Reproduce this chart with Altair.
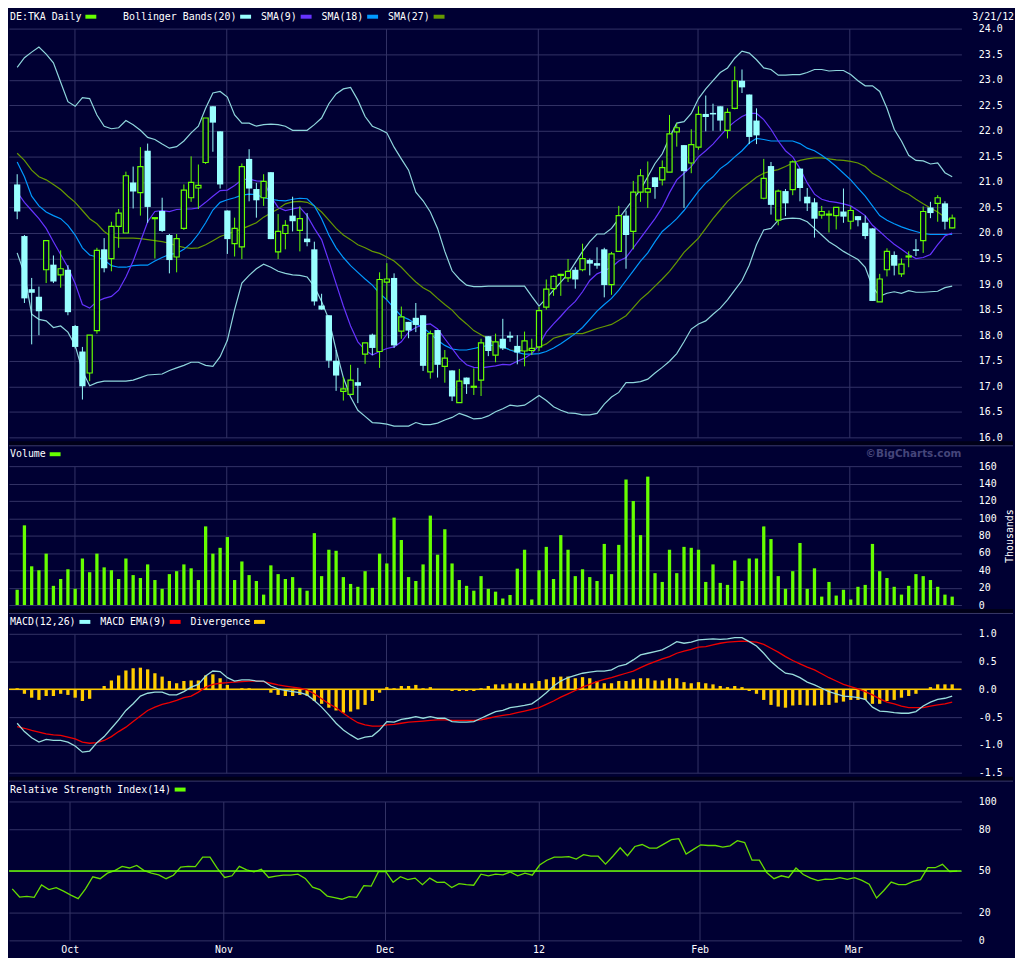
import altair as alt
import pandas as pd

# ---------------- data ----------------
opens = [20.95, 19.94, 18.90, 18.75, 19.28, 19.38, 19.18, 19.28, 18.18, 17.68,
 17.26, 18.09, 19.68, 19.50, 20.13, 20.00, 20.99, 20.79, 21.61, 20.28,
 20.43, 19.96, 19.53, 20.09, 20.69, 20.88, 21.38, 22.48, 21.99, 20.44,
 19.79, 19.73, 21.45, 20.86, 20.69, 21.19, 19.63, 19.99, 20.34, 20.05,
 19.89, 19.68, 18.58, 18.39, 17.50, 16.90, 16.84, 17.08, 17.63, 18.01,
 17.68, 19.04, 19.12, 18.08, 18.26, 18.34, 18.39, 17.28, 18.10, 17.39,
 17.31, 16.68, 17.17, 16.98, 17.12, 17.98, 17.61, 17.93, 17.99, 17.79,
 17.69, 17.70, 17.77, 18.55, 18.91, 19.17, 19.12, 19.28, 19.28, 19.47,
 19.41, 19.68, 18.99, 19.64, 20.34, 20.03, 20.80, 20.80, 21.09, 21.04,
 21.19, 21.98, 21.72, 21.37, 21.68, 22.33, 22.35, 22.48, 22.01, 22.44,
 22.98, 22.71, 22.20, 20.68, 21.31, 20.25, 20.82, 20.85, 21.26, 20.71,
 20.60, 20.35, 20.35, 20.34, 20.42, 20.23, 20.33, 20.20, 20.09, 18.65,
 19.28, 19.57, 19.20, 19.53, 19.68, 19.85, 20.50, 20.58, 20.58, 20.10]
highs = [21.15, 19.96, 19.12, 18.95, 19.85, 19.56, 19.66, 19.37, 18.20, 17.77,
 18.00, 19.71, 19.90, 20.22, 20.47, 21.20, 21.30, 21.68, 21.75, 20.30,
 20.69, 19.98, 19.98, 20.95, 21.50, 21.34, 22.25, 22.48, 21.99, 20.44,
 20.30, 21.36, 21.64, 20.98, 21.15, 21.19, 20.37, 20.25, 20.71, 20.52,
 20.39, 19.83, 18.81, 18.39, 17.71, 17.18, 17.42, 17.36, 17.85, 18.03,
 19.23, 19.41, 19.21, 18.56, 18.26, 18.63, 18.39, 18.09, 18.10, 17.71,
 17.31, 17.34, 17.17, 17.35, 17.93, 17.98, 18.03, 18.32, 18.07, 18.00,
 18.07, 17.93, 18.55, 19.09, 19.17, 19.20, 19.49, 19.33, 19.79, 19.50,
 19.72, 19.71, 19.63, 20.53, 20.44, 21.02, 21.25, 21.40, 21.09, 21.42,
 22.31, 22.15, 21.72, 22.03, 22.48, 22.69, 22.53, 22.48, 22.44, 23.26,
 23.20, 22.71, 22.44, 21.45, 21.39, 20.85, 20.86, 21.42, 21.26, 20.88,
 20.68, 20.53, 20.44, 20.50, 20.87, 20.52, 20.33, 20.34, 20.09, 19.20,
 19.70, 19.64, 19.50, 19.64, 19.88, 20.52, 20.61, 20.74, 20.62, 20.36]
lows = [20.27, 18.63, 17.82, 18.00, 19.02, 19.02, 18.93, 18.39, 17.74, 16.74,
 17.10, 18.03, 19.23, 19.25, 19.71, 20.00, 20.48, 20.34, 20.20, 19.50,
 20.02, 19.21, 19.23, 20.06, 20.61, 20.47, 21.35, 21.59, 20.87, 19.59,
 19.54, 19.49, 20.62, 20.30, 20.53, 19.88, 19.49, 19.68, 20.03, 19.64,
 19.74, 18.58, 18.50, 17.36, 16.91, 16.72, 16.84, 16.67, 17.44, 17.61,
 17.36, 18.69, 17.75, 17.93, 17.94, 18.06, 17.30, 17.15, 17.17, 17.07,
 16.71, 16.68, 16.85, 16.83, 16.81, 17.59, 17.47, 17.71, 17.87, 17.43,
 17.39, 17.61, 17.69, 18.50, 18.77, 18.77, 19.04, 18.91, 19.25, 19.17,
 19.30, 18.74, 18.79, 19.63, 19.30, 19.68, 20.61, 20.49, 20.67, 20.93,
 21.19, 21.69, 20.49, 21.17, 21.63, 21.99, 22.00, 22.00, 21.85, 22.42,
 22.74, 21.74, 21.74, 20.66, 20.36, 20.15, 20.33, 20.74, 20.62, 20.43,
 19.91, 20.28, 20.01, 20.07, 20.20, 20.07, 20.13, 19.88, 18.67, 18.65,
 19.15, 19.17, 19.14, 19.33, 19.55, 19.61, 20.29, 20.22, 20.07, 20.09]
closes = [20.42, 18.72, 18.83, 18.47, 19.85, 19.05, 19.30, 18.45, 17.77, 17.00,
 18.00, 19.66, 19.31, 20.13, 20.39, 21.12, 20.81, 21.30, 20.51, 20.30,
 20.04, 19.47, 19.89, 20.84, 20.99, 20.93, 22.25, 22.16, 20.95, 19.88,
 20.09, 21.30, 20.87, 20.64, 21.01, 19.88, 20.03, 20.15, 20.23, 20.28,
 19.82, 18.66, 18.50, 17.50, 17.21, 16.95, 17.12, 17.01, 17.85, 17.75,
 19.09, 19.10, 17.80, 18.36, 18.09, 18.20, 17.40, 18.03, 17.42, 17.55,
 16.80, 17.10, 17.04, 17.00, 17.85, 17.69, 17.87, 17.74, 17.95, 17.66,
 17.89, 17.74, 18.48, 18.90, 19.15, 19.19, 19.25, 19.09, 19.50, 19.40,
 19.36, 18.98, 19.59, 20.34, 19.96, 20.80, 21.12, 20.87, 20.90, 21.28,
 21.94, 22.06, 21.21, 21.73, 22.32, 22.27, 22.32, 22.20, 22.36, 22.98,
 22.85, 21.88, 21.91, 21.07, 20.55, 20.82, 20.58, 21.39, 20.88, 20.58,
 20.28, 20.42, 20.37, 20.50, 20.32, 20.44, 20.25, 19.94, 18.67, 19.10,
 19.64, 19.36, 19.39, 19.55, 19.65, 20.42, 20.39, 20.69, 20.22, 20.29]
volumes = [17.6, 91.8, 44.6, 40.1, 59.2, 22.1, 30.0, 41.2, 18.7, 53.6,
 37.8, 59.2, 43.4, 40.1, 30.0, 53.6, 34.5, 31.1, 46.8, 28.8,
 18.7, 35.6, 39.0, 46.8, 42.3, 28.8, 90.6, 59.2, 65.9, 78.3,
 28.8, 50.2, 34.5, 27.7, 12.0, 45.7, 35.6, 30.0, 32.2, 19.8,
 16.5, 82.8, 33.3, 63.7, 62.5, 32.2, 24.3, 21.0, 39.0, 19.8,
 59.2, 47.9, 100.7, 74.9, 32.2, 27.7, 46.8, 103.0, 58.0, 87.3,
 47.9, 28.8, 22.1, 16.5, 33.3, 18.7, 15.4, 7.5, 11.6, 41.9,
 63.7, 6.4, 40.1, 67.0, 30.0, 80.5, 63.7, 33.3, 41.2, 32.2,
 27.7, 70.4, 35.6, 69.3, 144.6, 119.8, 80.5, 147.9, 36.7, 26.6,
 63.7, 36.7, 67.0, 65.9, 63.7, 26.6, 46.8, 25.5, 23.2, 51.3,
 27.7, 53.6, 53.6, 90.6, 76.0, 33.3, 18.7, 39.0, 71.5, 18.7,
 42.3, 9.7, 26.6, 10.9, 17.6, 6.4, 21.0, 23.2, 70.4, 39.0,
 31.1, 21.0, 12.0, 22.1, 35.6, 33.3, 28.8, 21.0, 12.0, 9.7]
bb_upper = [23.24, 23.43, 23.54, 23.64, 23.50, 23.33, 22.95, 22.57, 22.48, 22.65,
 22.63, 22.31, 22.09, 22.04, 22.06, 22.20, 22.12, 22.01, 21.87, 21.83,
 21.74, 21.66, 21.69, 21.80, 21.96, 22.09, 22.44, 22.74, 22.77, 22.66,
 22.31, 22.15, 22.15, 22.09, 22.12, 22.13, 22.12, 22.09, 22.01, 22.01,
 22.01, 22.12, 22.25, 22.53, 22.72, 22.82, 22.85, 22.60, 22.28, 22.09,
 22.03, 21.96, 21.68, 21.45, 21.23, 20.80, 20.63, 20.41, 20.09, 19.64,
 19.26, 19.10, 18.98, 18.95, 18.95, 18.96, 18.96, 18.96, 18.96, 18.96,
 18.96, 18.76, 18.57, 18.72, 18.88, 19.04, 19.20, 19.42, 19.64, 19.83,
 19.98, 19.98, 20.09, 20.28, 20.47, 20.66, 20.85, 21.10, 21.36, 21.55,
 21.87, 22.15, 22.18, 22.34, 22.63, 22.82, 22.98, 23.14, 23.23, 23.42,
 23.56, 23.52, 23.39, 23.23, 23.20, 23.09, 23.09, 23.10, 23.10, 23.14,
 23.20, 23.20, 23.17, 23.18, 23.18, 23.10, 22.98, 22.88, 22.88, 22.77,
 22.44, 22.03, 21.80, 21.52, 21.42, 21.41, 21.35, 21.37, 21.18, 21.10]
bb_lower = [19.61, 19.20, 18.41, 18.31, 18.28, 18.15, 18.18, 18.06, 17.80, 17.30,
 17.01, 17.07, 17.10, 17.10, 17.10, 17.10, 17.12, 17.17, 17.22, 17.23,
 17.24, 17.31, 17.36, 17.41, 17.47, 17.47, 17.41, 17.39, 17.58, 17.90,
 18.50, 19.02, 19.17, 19.30, 19.39, 19.33, 19.25, 19.21, 19.18, 19.17,
 19.14, 18.95, 18.66, 18.31, 17.71, 17.17, 16.79, 16.53, 16.41, 16.29,
 16.28, 16.26, 16.22, 16.22, 16.22, 16.29, 16.25, 16.25, 16.28, 16.34,
 16.39, 16.47, 16.42, 16.36, 16.37, 16.42, 16.50, 16.56, 16.63, 16.61,
 16.63, 16.72, 16.82, 16.72, 16.60, 16.53, 16.48, 16.47, 16.44, 16.44,
 16.47, 16.65, 16.79, 16.88, 17.07, 17.07, 17.09, 17.14, 17.26, 17.37,
 17.49, 17.64, 17.87, 18.12, 18.22, 18.28, 18.41, 18.53, 18.69, 18.88,
 19.07, 19.37, 19.77, 20.06, 20.09, 20.25, 20.28, 20.29, 20.28, 20.22,
 20.09, 19.96, 19.83, 19.74, 19.64, 19.56, 19.48, 19.33, 18.95, 18.76,
 18.82, 18.85, 18.82, 18.87, 18.84, 18.84, 18.85, 18.86, 18.93, 18.96]
sma9 = [20.80, 20.60, 20.44, 20.28, 20.09, 19.83, 19.58, 19.33, 19.01, 18.60,
 18.53, 18.66, 18.72, 18.76, 18.88, 19.14, 19.45, 19.83, 20.22, 20.42,
 20.44, 20.42, 20.46, 20.47, 20.47, 20.49, 20.60, 20.72, 20.83, 20.84,
 20.93, 21.04, 21.06, 21.02, 21.01, 20.72, 20.50, 20.44, 20.47, 20.50,
 20.34, 20.09, 19.87, 19.45, 19.01, 18.57, 18.18, 17.87, 17.71, 17.61,
 17.68, 17.74, 17.77, 17.87, 18.06, 18.15, 18.20, 18.22, 18.12, 17.93,
 17.74, 17.55, 17.42, 17.37, 17.36, 17.38, 17.40, 17.43, 17.42, 17.49,
 17.55, 17.64, 17.80, 18.06, 18.22, 18.37, 18.53, 18.66, 18.85, 19.07,
 19.20, 19.26, 19.33, 19.45, 19.52, 19.71, 19.90, 20.09, 20.28, 20.50,
 20.79, 21.04, 21.17, 21.30, 21.49, 21.61, 21.74, 21.90, 22.06, 22.18,
 22.28, 22.34, 22.34, 22.22, 22.03, 21.80, 21.61, 21.49, 21.26, 20.98,
 20.76, 20.66, 20.62, 20.60, 20.57, 20.53, 20.44, 20.34, 20.15, 20.03,
 19.90, 19.78, 19.68, 19.58, 19.50, 19.52, 19.58, 19.77, 19.94, 20.00]
sma18 = [21.39, 21.10, 20.72, 20.53, 20.41, 20.34, 20.28, 20.15, 19.96, 19.71,
 19.57, 19.53, 19.47, 19.36, 19.33, 19.33, 19.36, 19.37, 19.37, 19.45,
 19.52, 19.58, 19.60, 19.68, 19.80, 19.98, 20.20, 20.45, 20.60, 20.65,
 20.69, 20.74, 20.76, 20.75, 20.69, 20.66, 20.64, 20.63, 20.66, 20.68,
 20.67, 20.53, 20.28, 19.96, 19.71, 19.52, 19.36, 19.23, 19.10, 18.98,
 18.82, 18.69, 18.53, 18.37, 18.31, 18.22, 18.15, 18.03, 17.90, 17.80,
 17.73, 17.71, 17.71, 17.74, 17.77, 17.80, 17.80, 17.77, 17.71, 17.66,
 17.63, 17.63, 17.64, 17.68, 17.75, 17.83, 17.93, 18.03, 18.15, 18.31,
 18.47, 18.60, 18.72, 18.88, 19.07, 19.26, 19.45, 19.61, 19.83, 20.03,
 20.15, 20.28, 20.44, 20.63, 20.82, 20.98, 21.10, 21.26, 21.36, 21.49,
 21.61, 21.76, 21.85, 21.83, 21.80, 21.80, 21.80, 21.80, 21.75, 21.66,
 21.61, 21.52, 21.42, 21.30, 21.17, 21.04, 20.88, 20.72, 20.53, 20.34,
 20.25, 20.18, 20.12, 20.07, 20.03, 19.99, 19.97, 19.97, 19.97, 19.97]
sma27 = [21.56, 21.42, 21.23, 21.10, 21.04, 20.95, 20.85, 20.72, 20.60, 20.44,
 20.28, 20.18, 20.03, 19.93, 19.90, 19.90, 19.90, 19.89, 19.87, 19.85,
 19.83, 19.80, 19.75, 19.72, 19.70, 19.71, 19.77, 19.85, 19.93, 19.98,
 20.03, 20.08, 20.14, 20.20, 20.31, 20.39, 20.47, 20.57, 20.61, 20.62,
 20.60, 20.53, 20.41, 20.25, 20.09, 19.96, 19.87, 19.77, 19.71, 19.64,
 19.60, 19.53, 19.45, 19.33, 19.18, 19.04, 18.93, 18.85, 18.72, 18.60,
 18.49, 18.34, 18.22, 18.09, 18.01, 17.93, 17.83, 17.77, 17.71, 17.70,
 17.70, 17.72, 17.77, 17.83, 17.94, 17.98, 18.02, 18.03, 18.03, 18.08,
 18.13, 18.17, 18.21, 18.29, 18.38, 18.54, 18.70, 18.82, 18.96, 19.10,
 19.25, 19.43, 19.62, 19.76, 19.90, 20.09, 20.28, 20.45, 20.62, 20.75,
 20.87, 20.98, 21.09, 21.17, 21.21, 21.24, 21.30, 21.37, 21.42, 21.45,
 21.47, 21.47, 21.45, 21.43, 21.42, 21.40, 21.37, 21.30, 21.17, 21.09,
 21.01, 20.91, 20.82, 20.76, 20.66, 20.57, 20.49, 20.41, 20.31, 20.23]
macd = [-0.61, -0.76, -0.87, -0.95, -0.90, -0.92, -0.92, -0.95, -1.02, -1.13,
 -1.11, -0.96, -0.85, -0.70, -0.55, -0.38, -0.26, -0.12, -0.07, -0.05,
 -0.05, -0.10, -0.10, -0.04, 0.04, 0.09, 0.24, 0.33, 0.32, 0.21,
 0.15, 0.17, 0.17, 0.15, 0.15, 0.06, 0.01, -0.02, -0.04, -0.06,
 -0.10, -0.20, -0.32, -0.46, -0.61, -0.73, -0.82, -0.90, -0.86, -0.84,
 -0.73, -0.58, -0.59, -0.54, -0.52, -0.49, -0.52, -0.49, -0.52, -0.52,
 -0.58, -0.59, -0.59, -0.58, -0.52, -0.46, -0.40, -0.38, -0.33, -0.31,
 -0.29, -0.26, -0.17, -0.06, 0.06, 0.15, 0.21, 0.25, 0.29, 0.31,
 0.33, 0.33, 0.35, 0.42, 0.45, 0.53, 0.62, 0.65, 0.68, 0.71,
 0.78, 0.86, 0.83, 0.85, 0.89, 0.90, 0.91, 0.90, 0.91, 0.93,
 0.93, 0.86, 0.78, 0.65, 0.50, 0.39, 0.29, 0.27, 0.21, 0.13,
 0.08, 0.02, -0.04, -0.08, -0.12, -0.13, -0.15, -0.18, -0.32, -0.39,
 -0.40, -0.42, -0.43, -0.43, -0.40, -0.30, -0.23, -0.18, -0.16, -0.12]
macd_ema = [-0.67, -0.70, -0.74, -0.77, -0.80, -0.82, -0.83, -0.86, -0.89, -0.95,
 -0.97, -0.96, -0.92, -0.85, -0.76, -0.68, -0.58, -0.48, -0.38, -0.32,
 -0.27, -0.24, -0.20, -0.15, -0.12, -0.05, 0.04, 0.09, 0.11, 0.12,
 0.13, 0.14, 0.15, 0.15, 0.14, 0.11, 0.08, 0.06, 0.04, 0.02,
 -0.01, -0.08, -0.17, -0.26, -0.33, -0.43, -0.52, -0.60, -0.64, -0.66,
 -0.66, -0.64, -0.63, -0.61, -0.59, -0.58, -0.57, -0.56, -0.55, -0.55,
 -0.56, -0.56, -0.56, -0.56, -0.55, -0.52, -0.49, -0.47, -0.45, -0.42,
 -0.39, -0.36, -0.33, -0.27, -0.21, -0.14, -0.08, -0.02, 0.04, 0.09,
 0.14, 0.18, 0.21, 0.25, 0.29, 0.33, 0.39, 0.45, 0.50, 0.55,
 0.59, 0.65, 0.69, 0.72, 0.76, 0.77, 0.80, 0.83, 0.85, 0.86,
 0.87, 0.86, 0.85, 0.81, 0.74, 0.67, 0.59, 0.52, 0.46, 0.40,
 0.35, 0.28, 0.21, 0.15, 0.09, 0.05, 0.01, -0.04, -0.10, -0.17,
 -0.23, -0.26, -0.30, -0.33, -0.33, -0.33, -0.30, -0.28, -0.26, -0.23]
macd_div = [0.02, -0.08, -0.15, -0.19, -0.12, -0.12, -0.08, -0.10, -0.15, -0.21,
 -0.17, 0.0, 0.06, 0.16, 0.25, 0.34, 0.38, 0.39, 0.36, 0.29,
 0.23, 0.15, 0.11, 0.15, 0.16, 0.16, 0.25, 0.27, 0.20, 0.08,
 0.0, 0.02, 0.02, 0.0, 0.0, -0.06, -0.10, -0.12, -0.12, -0.10,
 -0.12, -0.21, -0.26, -0.33, -0.38, -0.42, -0.40, -0.36, -0.28, -0.21,
 -0.06, 0.04, 0.02, 0.06, 0.06, 0.08, 0.02, 0.04, 0.0, 0.0,
 -0.03, -0.03, -0.03, -0.03, 0.02, 0.06, 0.09, 0.09, 0.11, 0.11,
 0.11, 0.11, 0.15, 0.18, 0.22, 0.23, 0.23, 0.20, 0.22, 0.20,
 0.15, 0.11, 0.11, 0.15, 0.15, 0.18, 0.20, 0.20, 0.16, 0.16,
 0.20, 0.20, 0.13, 0.11, 0.13, 0.11, 0.09, 0.06, 0.04, 0.06,
 0.04, -0.03, -0.08, -0.19, -0.28, -0.31, -0.33, -0.29, -0.28, -0.29,
 -0.29, -0.28, -0.28, -0.24, -0.22, -0.19, -0.19, -0.19, -0.26, -0.26,
 -0.21, -0.19, -0.15, -0.12, -0.08, 0.0, 0.04, 0.09, 0.09, 0.09]
rsi = [37.1, 31.2, 31.7, 31.0, 39.9, 36.6, 38.0, 35.4, 32.6, 30.0,
 37.1, 45.8, 44.4, 48.4, 50.2, 53.3, 52.1, 54.0, 50.2, 48.4,
 47.2, 44.4, 46.9, 52.8, 53.3, 53.1, 59.9, 59.9, 51.9, 45.3,
 46.5, 53.3, 50.7, 49.3, 51.2, 45.3, 46.2, 46.9, 46.9, 47.7,
 44.6, 38.3, 36.6, 31.9, 30.8, 29.6, 31.5, 31.0, 39.4, 39.0,
 49.5, 49.5, 41.8, 45.8, 43.7, 44.8, 40.1, 44.8, 41.8, 42.0,
 38.0, 40.8, 40.1, 39.7, 47.7, 46.5, 47.7, 47.2, 49.3, 46.5,
 48.4, 46.9, 54.2, 57.7, 59.9, 59.9, 60.3, 58.5, 61.7, 60.6,
 60.6, 54.9, 60.6, 66.7, 61.0, 67.6, 69.0, 66.4, 66.4, 69.5,
 72.5, 73.2, 62.2, 65.5, 68.8, 68.3, 68.3, 67.1, 68.1, 71.8,
 70.4, 57.7, 57.7, 48.8, 44.4, 46.5, 45.3, 52.1, 47.4, 44.8,
 43.0, 44.1, 43.9, 45.1, 43.9, 45.1, 43.2, 40.4, 30.5, 35.9,
 42.0, 40.1, 40.1, 42.5, 43.7, 52.3, 52.3, 54.7, 49.5, 49.8]

month_pos = [7.85, 28.85, 50.85, 71.85, 93.85, 114.85]
month_labels = ["Oct", "Nov", "Dec", "12", "Feb", "Mar"]
price_ticks = [16.0, 16.5, 17.0, 17.5, 18.0, 18.5, 19.0, 19.5, 20.0, 20.5,
               21.0, 21.5, 22.0, 22.5, 23.0, 23.5, 24.0]
volume_ticks = [0, 20, 40, 60, 80, 100, 120, 140, 160]
macd_ticks = [-1.5, -1.0, -0.5, 0.0, 0.5, 1.0]
rsi_ticks = [0, 20, 50, 80, 100]
macd_zero = [0.0]
rsi_mid = [50]

# ---------------- style ----------------
BG = "#000033"
GRID = "#333366"
SEP = "#3a3a68"
TXT = "#ffffff"
UP = "#66ff00"
DOWN = "#99ffff"
BBC = "#8fd6dd"
C9 = "#6633ff"
C18 = "#0099ff"
C27 = "#669900"
MACDC = "#99dddd"
EMAC = "#ee0000"
DIVC = "#ffcc00"
RSIC = "#66dd00"
MONO = "DejaVu Sans Mono"

W = 960
HP, HV, HM, HR = 412, 140, 140, 140

df = pd.DataFrame({
    "i": list(range(len(closes))), "open": opens, "high": highs, "low": lows,
    "close": closes, "vol": volumes, "bbu": bb_upper, "bbl": bb_lower,
    "sma9": sma9, "sma18": sma18, "sma27": sma27,
    "macd": macd, "ema": macd_ema, "div": macd_div, "rsi": rsi,
})
one = pd.DataFrame({"k": [0]})

month_expr = "''"
for p, l in reversed(list(zip(month_pos, month_labels))):
    month_expr = f"abs(datum.value - {p}) < 0.5 ? '{l}' : " + month_expr

xscale = alt.Scale(domain=[-0.445, 129.59], nice=False, zero=False)


def X(show=False):
    return alt.X("i:Q", scale=xscale, axis=alt.Axis(
        values=month_pos, grid=True, gridColor=GRID, gridWidth=1, ticks=False,
        domain=False, labels=show, labelExpr=month_expr, labelColor=TXT,
        labelFont=MONO, labelFontSize=10, labelPadding=4, labelFlush=False,
        labelOverlap=False, labelBaseline="top", title=None))


def yaxis(values, expr, **kw):
    return alt.Axis(orient="right", values=values, grid=True, gridColor=GRID,
                    gridWidth=1, ticks=False, domain=False, labelColor=TXT,
                    labelFont=MONO, labelFontSize=10, labelPadding=17,
                    labelOverlap=False, labelFlush=False, labelExpr=expr, **kw)


fix_minus = "replace(format(datum.value, '.1f'), '\u2212', '-')"
int_lab = "format(datum.value, 'd')"


def txt(s, x, y=-12, color=TXT, align="left", font=MONO, size=10, weight="normal"):
    return alt.Chart(one).mark_text(text=s, align=align, baseline="middle", font=font,
                                    fontSize=size, fontWeight=weight, color=color
                                    ).encode(x=alt.value(x), y=alt.value(y))


def swatch(x1, x2, color, y=-12):
    return alt.Chart(one).mark_rect(color=color).encode(
        x=alt.value(x1), x2=alt.value(x2), y=alt.value(y - 2), y2=alt.value(y + 2))


def separator():
    band = alt.Chart(one).mark_rect(color="#000018").encode(
        x=alt.value(0), x2=alt.value(W + 52), y=alt.value(-25), y2=alt.value(-21))
    line = alt.Chart(one).mark_rule(color=SEP, strokeWidth=1).encode(
        x=alt.value(0), x2=alt.value(W + 52), y=alt.value(-20.5))
    return [band, line]


base = alt.Chart(df)

# ---------------- price panel ----------------
py_scale = alt.Scale(domain=[16, 24], nice=False, zero=False)
py_axis = yaxis(price_ticks, fix_minus, title=None)


def PY(f):
    return alt.Y(f"{f}:Q", scale=py_scale, axis=py_axis)


price_lines = [base.mark_line(color=c, strokeWidth=1.2).encode(x=X(), y=PY(f))
               for f, c in [("bbu", BBC), ("bbl", BBC), ("sma27", C27), ("sma18", C18), ("sma9", C9)]]
up = base.transform_filter("datum.close >= datum.open")
dn = base.transform_filter("datum.close < datum.open")
wick_up = up.mark_rule(color=UP, strokeWidth=1).encode(x=X(), y=PY("low"), y2="high:Q")
wick_dn = dn.mark_rule(color=DOWN, strokeWidth=1).encode(x=X(), y=PY("low"), y2="high:Q")
body_dn = dn.mark_bar(color=DOWN, size=6.3).encode(x=X(), y=PY("open"), y2="close:Q")
body_up = up.mark_bar(fill=BG, stroke=UP, strokeWidth=1.2, size=5.2).encode(
    x=X(), y=PY("open"), y2="close:Q")

price_head = [
    txt("DE:TKA Daily", 1), swatch(77, 88, UP),
    txt("Bollinger Bands(20)", 115), swatch(233, 244, DOWN),
    txt("SMA(9)", 254), swatch(294, 305, C9),
    txt("SMA(18)", 315), swatch(361, 372, C18),
    txt("SMA(27)", 382), swatch(428, 439, C27),
    txt("3/21/12", W + 11),
]
price = alt.layer(*price_lines, wick_up, wick_dn, body_dn, body_up, *price_head
                  ).properties(width=W, height=HP)

# ---------------- volume panel ----------------
vy_axis = yaxis(volume_ticks, int_lab, title="Thousands", titleAngle=270, titleX=48,
                titleY=HV / 2, titleAlign="center", titleBaseline="middle",
                titleColor=TXT, titleFont=MONO, titleFontSize=10, titleFontWeight="normal")
vol_bars = base.mark_bar(color=UP, size=3.3).encode(
    x=X(), y=alt.Y("vol:Q", scale=alt.Scale(domain=[0, 160], nice=False), axis=vy_axis))
volume = alt.layer(
    *separator(), vol_bars,
    txt("Volume", 1), swatch(41, 52, UP),
    txt("\u00a9BigCharts.com", W, align="right", font="DejaVu Sans", size=10.5,
        weight="bold", color="#45457a"),
).properties(width=W, height=HV)

# ---------------- MACD panel ----------------
m_scale = alt.Scale(domain=[-1.5, 1.0], nice=False, zero=False)
m_axis = yaxis(macd_ticks, fix_minus, title=None)
div_bars = base.mark_bar(color=DIVC, size=3.3).encode(
    x=X(), y=alt.Y("div:Q", scale=m_scale, axis=m_axis), y2=alt.datum(0))
zero_line = alt.Chart(pd.DataFrame({"level": macd_zero})).mark_rule(
    color=DIVC, strokeWidth=1.5).encode(y=alt.Y("level:Q", scale=m_scale, axis=m_axis))
macd_line = base.mark_line(color=MACDC, strokeWidth=1.3).encode(
    x=X(), y=alt.Y("macd:Q", scale=m_scale, axis=m_axis))
ema_line = base.mark_line(color=EMAC, strokeWidth=1.3).encode(
    x=X(), y=alt.Y("ema:Q", scale=m_scale, axis=m_axis))
macd_c = alt.layer(
    *separator(), div_bars, zero_line, ema_line, macd_line,
    txt("MACD(12,26)", 1), swatch(71, 82, DOWN),
    txt("MACD EMA(9)", 92), swatch(162, 173, "#ff0000"),
    txt("Divergence", 183), swatch(247, 258, DIVC),
).properties(width=W, height=HM)

# ---------------- RSI panel ----------------
r_scale = alt.Scale(domain=[0, 100], nice=False, zero=False)
r_axis = yaxis(rsi_ticks, int_lab, title=None)
rsi_line = base.mark_line(color=RSIC, strokeWidth=1.3).encode(
    x=X(True), y=alt.Y("rsi:Q", scale=r_scale, axis=r_axis))
mid_line = alt.Chart(pd.DataFrame({"level": rsi_mid})).mark_rule(
    color=UP, strokeWidth=1.5).encode(y=alt.Y("level:Q", scale=r_scale, axis=r_axis))
rsi_c = alt.layer(
    *separator(), rsi_line, mid_line,
    txt("Relative Strength Index(14)", 1), swatch(167, 178, UP),
).properties(width=W, height=HR)

chart = alt.vconcat(price, volume, macd_c, rsi_c, spacing=29, bounds="flush").configure(
    background=BG, padding=0).configure_view(stroke=None)

chart.save("out.html", embed_options={"renderer": "svg", "actions": False})
